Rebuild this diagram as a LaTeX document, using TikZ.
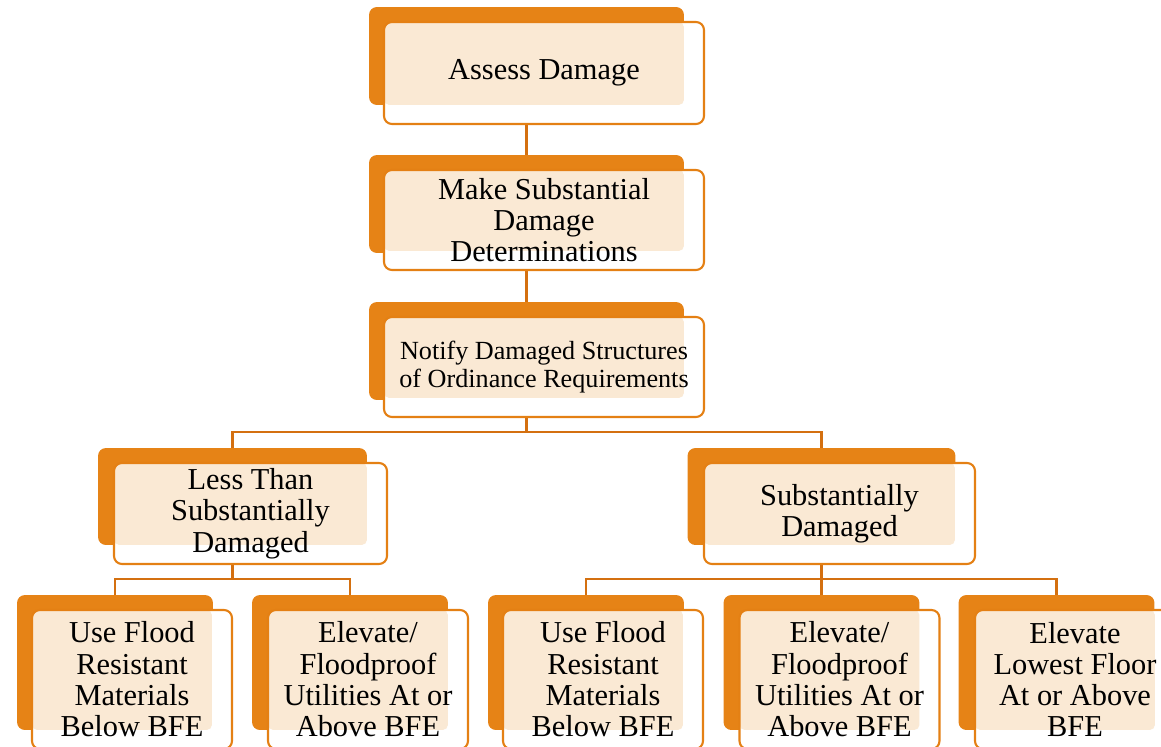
\documentclass[tikz,border=0pt]{standalone}
\usepackage{fontspec}
\setmainfont{Liberation Serif}
\usetikzlibrary{calc}

\definecolor{cardfill}{RGB}{230,131,22}
\definecolor{cardline}{RGB}{228,128,20}
\definecolor{linkcol}{RGB}{212,112,16}
\definecolor{dotfill}{RGB}{250,233,212}

\tikzset{
	backbox/.style={fill=cardfill, rounded corners=4.5pt, inner sep=0pt},
	front/.style={draw=cardline, line width=1.2pt, fill=white, rounded corners=4.5pt,
		inner sep=0pt, align=center, font=\fontsize{17.3}{17.8}\selectfont,
		path picture={\fill[dotfill, rounded corners=3pt] (path picture bounding box.north west)
			rectangle ([shift={(-20,-19)}]path picture bounding box.south east);}},
	link/.style={draw=linkcol, line width=1.4pt}
}

\begin{document}
\begin{tikzpicture}[x=0.02cm,y=-0.02cm]

	\useasboundingbox (0,0) rectangle (1161,747);

	% orange cards behind
	\node[backbox, minimum width=6.3cm, minimum height=1.96cm] (b1) at (526.5,56) {};
	\node[backbox, minimum width=6.3cm, minimum height=1.96cm] (b2) at (526.5,204) {};
	\node[backbox, minimum width=6.3cm, minimum height=1.96cm] (b3) at (526.5,351) {};
	\node[backbox, minimum width=5.38cm, minimum height=1.94cm] (b4) at (232.5,496.5) {};
	\node[backbox, minimum width=5.36cm, minimum height=1.94cm] (b5) at (821.5,496.5) {};
	\node[backbox, minimum width=3.92cm, minimum height=2.7cm] (b6) at (115,662.5) {};
	\node[backbox, minimum width=3.92cm, minimum height=2.7cm] (b7) at (350,662.5) {};
	\node[backbox, minimum width=3.92cm, minimum height=2.7cm] (b8) at (586,662.5) {};
	\node[backbox, minimum width=3.92cm, minimum height=2.7cm] (b9) at (821.5,662.5) {};
	\node[backbox, minimum width=3.92cm, minimum height=2.7cm] (b10) at (1056.5,662.5) {};

	% the tree lines
	\coordinate (j3) at (526.5,432);
	\coordinate (j4) at (232.5,579);
	\coordinate (j5) at (821.5,579);
	\draw[link] (b1.south) -- (b2.north);
	\draw[link] (b2.south) -- (b3.north);
	\draw[link] (b3.south) -- (j3);
	\draw[link] (b4.north) |- (j3) -| (b5.north);
	\draw[link] (b4.south) -- (j4);
	\draw[link] (b6.north) |- (j4) -| (b7.north);
	\draw[link] (b5.south) -- (j5);
	\draw[link] (b8.north) |- (j5) -| (b10.north);
	\draw[link] (j5) -- (b9.north);

	% white cards with the text
	\node[front, minimum width=6.4cm, minimum height=2.04cm] (n1) at (544,73) {Assess Damage};
	\node[front, minimum width=6.4cm, minimum height=2cm] (n2) at (544,220)
		{Make Substantial\\Damage\\Determinations};
	\node[front, minimum width=6.4cm, minimum height=2cm, font=\fontsize{14.9}{15.9}\selectfont] (n3) at (544,367)
		{Notify Damaged Structures\\of Ordinance Requirements};
	\node[front, minimum width=5.46cm, minimum height=2.02cm] (n4) at (250.5,513.5)
		{Less Than\\Substantially\\Damaged};
	\node[front, minimum width=5.42cm, minimum height=2.02cm] (n5) at (839.5,513.5)
		{Substantially\\Damaged};
	\node[front, minimum width=4cm, minimum height=2.78cm] (n6) at (132,679.5)
		{Use Flood\\Resistant\\Materials\\Below BFE};
	\node[front, minimum width=4cm, minimum height=2.78cm] (n7) at (368,679.5)
		{Elevate/\\Floodproof\\Utilities At or\\Above BFE};
	\node[front, minimum width=4cm, minimum height=2.78cm] (n8) at (603,679.5)
		{Use Flood\\Resistant\\Materials\\Below BFE};
	\node[front, minimum width=4cm, minimum height=2.78cm] (n9) at (839.5,679.5)
		{Elevate/\\Floodproof\\Utilities At or\\Above BFE};
	\node[front, minimum width=4cm, minimum height=2.78cm] (n10) at (1075,679.5)
		{Elevate\\Lowest Floor\\At or Above\\BFE};

\end{tikzpicture}
\end{document}
